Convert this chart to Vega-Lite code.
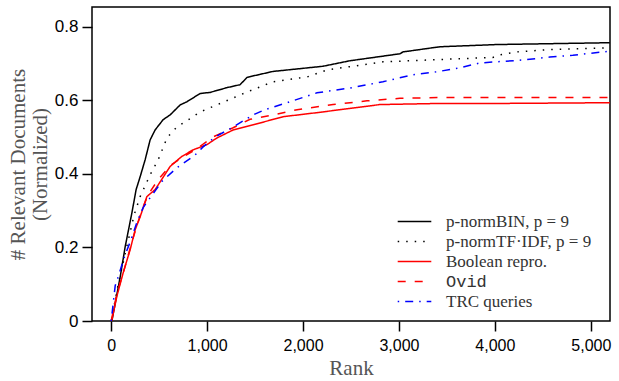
{
  "$schema": "https://vega.github.io/schema/vega-lite/v6.json",
  "width": 518,
  "height": 314,
  "autosize": {"type": "none"},
  "padding": {"left": 92, "top": 7, "right": 9, "bottom": 60},
  "background": "white",
  "config": {
    "view": {"stroke": "black", "strokeWidth": 1.5},
    "axis": {
      "domain": false,
      "grid": false,
      "tickColor": "black",
      "tickWidth": 1.5,
      "tickSize": 10,
      "labelFont": "Liberation Sans",
      "labelFontSize": 16,
      "labelColor": "black",
      "titleFont": "Liberation Serif",
      "titleFontSize": 21,
      "titleFontWeight": "normal",
      "titleColor": "#555555",
      "titleLimit": 500
    }
  },
  "data": {
    "values": [
      {"s": "bin", "rank": 7, "v": 0},
      {"s": "bin", "rank": 94, "v": 0.12},
      {"s": "bin", "rank": 146, "v": 0.202},
      {"s": "bin", "rank": 216, "v": 0.294},
      {"s": "bin", "rank": 260, "v": 0.357},
      {"s": "bin", "rank": 302, "v": 0.392},
      {"s": "bin", "rank": 354, "v": 0.438},
      {"s": "bin", "rank": 406, "v": 0.492},
      {"s": "bin", "rank": 458, "v": 0.519},
      {"s": "bin", "rank": 542, "v": 0.547},
      {"s": "bin", "rank": 615, "v": 0.56},
      {"s": "bin", "rank": 719, "v": 0.587},
      {"s": "bin", "rank": 792, "v": 0.596},
      {"s": "bin", "rank": 927, "v": 0.618},
      {"s": "bin", "rank": 1031, "v": 0.621},
      {"s": "bin", "rank": 1208, "v": 0.634},
      {"s": "bin", "rank": 1344, "v": 0.642},
      {"s": "bin", "rank": 1417, "v": 0.662},
      {"s": "bin", "rank": 1552, "v": 0.67},
      {"s": "bin", "rank": 1688, "v": 0.678},
      {"s": "bin", "rank": 2208, "v": 0.692},
      {"s": "bin", "rank": 2490, "v": 0.707},
      {"s": "bin", "rank": 2875, "v": 0.721},
      {"s": "bin", "rank": 3010, "v": 0.726},
      {"s": "bin", "rank": 3042, "v": 0.731},
      {"s": "bin", "rank": 3427, "v": 0.745},
      {"s": "bin", "rank": 4021, "v": 0.751},
      {"s": "bin", "rank": 5198, "v": 0.756},
      {"s": "tfidf", "rank": 0, "v": 0},
      {"s": "tfidf", "rank": 73, "v": 0.099},
      {"s": "tfidf", "rank": 167, "v": 0.207},
      {"s": "tfidf", "rank": 240, "v": 0.289},
      {"s": "tfidf", "rank": 302, "v": 0.338},
      {"s": "tfidf", "rank": 406, "v": 0.397},
      {"s": "tfidf", "rank": 490, "v": 0.438},
      {"s": "tfidf", "rank": 583, "v": 0.498},
      {"s": "tfidf", "rank": 688, "v": 0.528},
      {"s": "tfidf", "rank": 771, "v": 0.541},
      {"s": "tfidf", "rank": 927, "v": 0.568},
      {"s": "tfidf", "rank": 1156, "v": 0.593},
      {"s": "tfidf", "rank": 1396, "v": 0.62},
      {"s": "tfidf", "rank": 1688, "v": 0.65},
      {"s": "tfidf", "rank": 2042, "v": 0.663},
      {"s": "tfidf", "rank": 2250, "v": 0.682},
      {"s": "tfidf", "rank": 2490, "v": 0.691},
      {"s": "tfidf", "rank": 2833, "v": 0.704},
      {"s": "tfidf", "rank": 3396, "v": 0.71},
      {"s": "tfidf", "rank": 3979, "v": 0.716},
      {"s": "tfidf", "rank": 4052, "v": 0.723},
      {"s": "tfidf", "rank": 4229, "v": 0.731},
      {"s": "tfidf", "rank": 4542, "v": 0.737},
      {"s": "tfidf", "rank": 5198, "v": 0.742},
      {"s": "bool", "rank": 5, "v": 0},
      {"s": "bool", "rank": 59, "v": 0.067},
      {"s": "bool", "rank": 125, "v": 0.131},
      {"s": "bool", "rank": 198, "v": 0.194},
      {"s": "bool", "rank": 250, "v": 0.248},
      {"s": "bool", "rank": 302, "v": 0.283},
      {"s": "bool", "rank": 372, "v": 0.338},
      {"s": "bool", "rank": 458, "v": 0.357},
      {"s": "bool", "rank": 528, "v": 0.385},
      {"s": "bool", "rank": 615, "v": 0.42},
      {"s": "bool", "rank": 736, "v": 0.447},
      {"s": "bool", "rank": 854, "v": 0.465},
      {"s": "bool", "rank": 997, "v": 0.479},
      {"s": "bool", "rank": 1101, "v": 0.497},
      {"s": "bool", "rank": 1271, "v": 0.519},
      {"s": "bool", "rank": 1552, "v": 0.538},
      {"s": "bool", "rank": 1792, "v": 0.555},
      {"s": "bool", "rank": 2146, "v": 0.566},
      {"s": "bool", "rank": 2385, "v": 0.574},
      {"s": "bool", "rank": 2802, "v": 0.588},
      {"s": "bool", "rank": 3427, "v": 0.591},
      {"s": "bool", "rank": 4052, "v": 0.591},
      {"s": "bool", "rank": 5198, "v": 0.593},
      {"s": "ovid", "rank": 0, "v": 0},
      {"s": "ovid", "rank": 62, "v": 0.077},
      {"s": "ovid", "rank": 135, "v": 0.139},
      {"s": "ovid", "rank": 208, "v": 0.207},
      {"s": "ovid", "rank": 271, "v": 0.262},
      {"s": "ovid", "rank": 333, "v": 0.31},
      {"s": "ovid", "rank": 385, "v": 0.343},
      {"s": "ovid", "rank": 490, "v": 0.384},
      {"s": "ovid", "rank": 615, "v": 0.422},
      {"s": "ovid", "rank": 750, "v": 0.446},
      {"s": "ovid", "rank": 875, "v": 0.465},
      {"s": "ovid", "rank": 1062, "v": 0.5},
      {"s": "ovid", "rank": 1271, "v": 0.525},
      {"s": "ovid", "rank": 1448, "v": 0.548},
      {"s": "ovid", "rank": 1688, "v": 0.56},
      {"s": "ovid", "rank": 1938, "v": 0.574},
      {"s": "ovid", "rank": 2313, "v": 0.588},
      {"s": "ovid", "rank": 2667, "v": 0.598},
      {"s": "ovid", "rank": 3010, "v": 0.605},
      {"s": "ovid", "rank": 3427, "v": 0.607},
      {"s": "ovid", "rank": 5198, "v": 0.607},
      {"s": "trc", "rank": 0, "v": 0},
      {"s": "trc", "rank": 42, "v": 0.096},
      {"s": "trc", "rank": 73, "v": 0.12},
      {"s": "trc", "rank": 135, "v": 0.172},
      {"s": "trc", "rank": 198, "v": 0.215},
      {"s": "trc", "rank": 271, "v": 0.27},
      {"s": "trc", "rank": 333, "v": 0.308},
      {"s": "trc", "rank": 406, "v": 0.335},
      {"s": "trc", "rank": 528, "v": 0.379},
      {"s": "trc", "rank": 684, "v": 0.416},
      {"s": "trc", "rank": 875, "v": 0.451},
      {"s": "trc", "rank": 958, "v": 0.473},
      {"s": "trc", "rank": 1083, "v": 0.5},
      {"s": "trc", "rank": 1257, "v": 0.525},
      {"s": "trc", "rank": 1479, "v": 0.56},
      {"s": "trc", "rank": 1604, "v": 0.574},
      {"s": "trc", "rank": 1833, "v": 0.593},
      {"s": "trc", "rank": 2146, "v": 0.62},
      {"s": "trc", "rank": 2490, "v": 0.633},
      {"s": "trc", "rank": 2833, "v": 0.65},
      {"s": "trc", "rank": 3146, "v": 0.669},
      {"s": "trc", "rank": 3396, "v": 0.677},
      {"s": "trc", "rank": 3635, "v": 0.688},
      {"s": "trc", "rank": 3844, "v": 0.701},
      {"s": "trc", "rank": 4292, "v": 0.709},
      {"s": "trc", "rank": 4573, "v": 0.717},
      {"s": "trc", "rank": 4813, "v": 0.722},
      {"s": "trc", "rank": 5198, "v": 0.733}
    ]
  },
  "mark": {"type": "line", "clip": true},
  "encoding": {
    "x": {
      "field": "rank",
      "type": "quantitative",
      "scale": {"domain": [-200, 5200], "nice": false, "zero": false},
      "axis": {"values": [0, 1000, 2000, 3000, 4000, 5000], "format": ",d", "title": "Rank", "labelPadding": 6, "titlePadding": 4}
    },
    "y": {
      "field": "v",
      "type": "quantitative",
      "scale": {"domain": [0, 0.853], "nice": false},
      "axis": {
        "values": [0, 0.2, 0.4, 0.6, 0.8],
        "labelExpr": "datum.value == 0 ? '0' : format(datum.value, '.1f')",
        "labelFontSize": 17,
        "labelPadding": 4,
        "title": ["# Relevant Documents", "(Normalized)"],
        "titleLineHeight": 22,
        "titlePadding": 4
      }
    },
    "color": {
      "field": "s",
      "type": "nominal",
      "scale": {
        "domain": ["bin", "tfidf", "bool", "ovid", "trc"],
        "range": ["#000000", "#000000", "#ff0000", "#ff0000", "#0000ff"]
      },
      "legend": {
        "orient": "none",
        "legendX": 311,
        "legendY": 203,
        "title": null,
        "symbolType": "M-1.6,0H1.6",
        "symbolSize": 441,
        "symbolStrokeWidth": 2.5,
        "labelFont": {"expr": "datum.value == 'ovid' ? 'Liberation Mono' : 'Liberation Serif'"},
        "labelFontSize": 17,
        "labelColor": "#333333",
        "labelOffset": 20,
        "labelLimit": 300,
        "rowPadding": 0,
        "labelExpr": "{'bin': 'p-normBIN, p = 9', 'tfidf': 'p-normTF·IDF, p = 9', 'bool': 'Boolean repro.', 'ovid': 'Ovid', 'trc': 'TRC queries'}[datum.value]"
      }
    },
    "strokeDash": {
      "field": "s",
      "type": "nominal",
      "scale": {
        "domain": ["bin", "tfidf", "bool", "ovid", "trc"],
        "range": [[1, 0], [1.5, 7], [1, 0], [8, 9], [1.5, 6, 8, 6]]
      },
      "legend": null
    },
    "strokeWidth": {
      "field": "s",
      "type": "nominal",
      "scale": {
        "domain": ["bin", "tfidf", "bool", "ovid", "trc"],
        "range": [1.5, 1.5, 1.5, 1.8, 2]
      },
      "legend": null
    }
  }
}
